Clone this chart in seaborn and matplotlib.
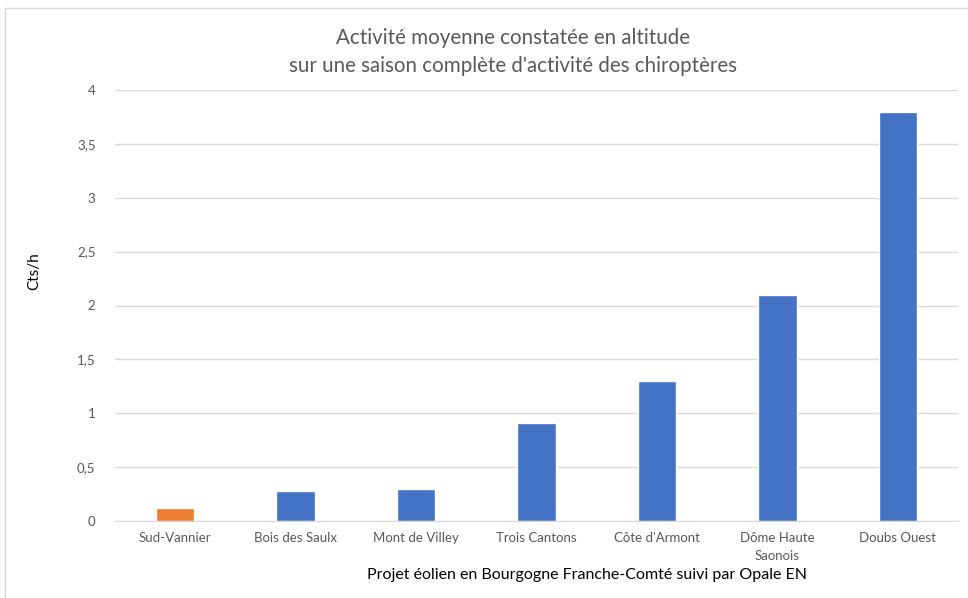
import pandas as pd
import numpy as np
import matplotlib.pyplot as plt
import seaborn as sns
from matplotlib.patches import Rectangle

sites = ["Sud-Vannier", "Bois des Saulx", "Mont de Villey", "Trois Cantons",
         "Côte d'Armont", "Dôme Haute\nSaonois", "Doubs Ouest"]
activity = [0.12, 0.28, 0.30, 0.91, 1.30, 2.10, 3.80]
bar_colors = ["#ED7D31", "#4472C4", "#4472C4", "#4472C4", "#4472C4", "#4472C4", "#4472C4"]
y_ticks = [0, 0.5, 1, 1.5, 2, 2.5, 3, 3.5, 4]
y_tick_labels = ["0", "0,5", "1", "1,5", "2", "2,5", "3", "3,5", "4"]

sns.set_style("white")
plt.rcParams['font.family'] = ['Lato', 'DejaVu Sans']

df = pd.DataFrame({"site": sites, "activity": activity})

fig = plt.figure(figsize=(9.68, 5.98), dpi=100)
ax = fig.add_axes([115 / 968, 1 - 521 / 598, 843 / 968, 431 / 598])

sns.barplot(data=df, x="site", y="activity", hue="site", palette=bar_colors,
            width=0.32, legend=False, ax=ax, saturation=1)

ax.set_ylim(0, 4)
ax.set_xlim(-0.5, len(sites) - 0.5)
ax.set_yticks(y_ticks)
ax.set_yticklabels(y_tick_labels)
ax.yaxis.grid(True, color="#D9D9D9", linewidth=1)
ax.set_axisbelow(True)
for s in ["top", "right", "left"]:
    ax.spines[s].set_visible(False)
ax.spines["bottom"].set_color("#D9D9D9")
ax.tick_params(axis="both", length=0, labelsize=9.5, colors="#595959", pad=8)
ax.tick_params(axis="y", pad=14)
for lbl in ax.get_xticklabels():
    lbl.set_linespacing(1.6)

ax.set_ylabel("Cts/h", fontsize=11, color="black")
ax.yaxis.set_label_coords(-0.087, 0.58)
ax.set_xlabel("Projet éolien en Bourgogne Franche-Comté suivi par Opale EN",
              fontsize=11.5, color="black")
ax.xaxis.set_label_coords(0.56, -0.11)

fig.text(0.53, 1 - 38 / 598, "Activité moyenne constatée en altitude",
         ha="center", va="center", fontsize=14.8, color="#595959")
fig.text(0.53, 1 - 66 / 598, "sur une saison complète d'activité des chiroptères",
         ha="center", va="center", fontsize=14.8, color="#595959")

fig.patches.append(Rectangle((5 / 968, -0.01), 1.0, 1 - 8 / 598 + 0.01,
                             transform=fig.transFigure, fill=False,
                             edgecolor="#D9D9D9", linewidth=1))

plt.savefig("out.png", dpi=100)
